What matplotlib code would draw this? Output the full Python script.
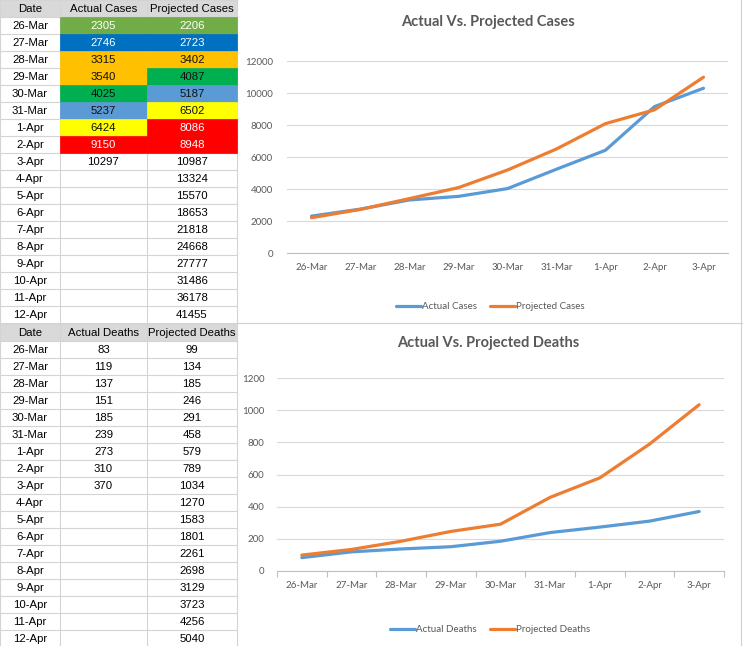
import matplotlib
matplotlib.use("Agg")
import matplotlib.pyplot as plt
from matplotlib.patches import Rectangle

W, H = 743, 646

dates = ["26-Mar", "27-Mar", "28-Mar", "29-Mar", "30-Mar", "31-Mar",
         "1-Apr", "2-Apr", "3-Apr", "4-Apr", "5-Apr", "6-Apr", "7-Apr",
         "8-Apr", "9-Apr", "10-Apr", "11-Apr", "12-Apr"]
actual_cases = [2305, 2746, 3315, 3540, 4025, 5237, 6424, 9150, 10297]
projected_cases = [2206, 2723, 3402, 4087, 5187, 6502, 8086, 8948, 10987,
                   13324, 15570, 18653, 21818, 24668, 27777, 31486, 36178, 41455]
actual_deaths = [83, 119, 137, 151, 185, 239, 273, 310, 370]
projected_deaths = [99, 134, 185, 246, 291, 458, 579, 789, 1034,
                    1270, 1583, 1801, 2261, 2698, 3129, 3723, 4256, 5040]

# cell fills of the cases table (actual, projected) per row
case_fills = [("#70AD47", "#70AD47"), ("#0070C0", "#0070C0"),
              ("#FFC000", "#FFC000"), ("#FFC000", "#00B050"),
              ("#00B050", "#5B9BD5"), ("#5B9BD5", "#FFFF00"),
              ("#FFFF00", "#FF0000"), ("#FF0000", "#FF0000")]
WHITE_TEXT = {"#70AD47", "#0070C0", "#FF0000"}

BLUE, ORANGE = "#5B9BD5", "#ED7D31"
GRID = "#d4d4d4"
CHART_FONT = "Lato"
TABLE_FONT = "Liberation Sans"

fig = plt.figure(figsize=(W / 100, H / 100), dpi=100)
bg = fig.add_axes([0, 0, 1, 1])
bg.set_xlim(0, W)
bg.set_ylim(H, 0)
bg.axis("off")

COLS = [0, 60, 147, 237]
RH = 17.0


def draw_table(y0, headers, actual, projected, fills):
    nrows = len(dates) + 1
    bg.add_patch(Rectangle((0, y0), COLS[-1], RH, fc="#d9d9d9", ec="none", zorder=1))
    for i in range(nrows + 1):
        bg.plot([0, COLS[-1]], [y0 + i * RH] * 2, c=GRID, lw=0.8, zorder=2)
    for x in COLS:
        bg.plot([x, x], [y0, y0 + nrows * RH], c=GRID, lw=0.8, zorder=2)
    for j, h in enumerate(headers):
        bg.text((COLS[j] + COLS[j + 1]) / 2, y0 + RH / 2 + 0.5, h, ha="center",
                va="center", fontsize=8.2, family=TABLE_FONT, zorder=4)
    for i, d in enumerate(dates):
        y = y0 + (i + 1) * RH
        vals = [d,
                str(actual[i]) if i < len(actual) else "",
                str(projected[i]) if i < len(projected) else ""]
        for j, v in enumerate(vals):
            tc = "black"
            if j > 0 and fills and i < len(fills):
                fc = fills[i][j - 1]
                bg.add_patch(Rectangle((COLS[j], y), COLS[j + 1] - COLS[j], RH,
                                       fc=fc, ec=fc, lw=0.5, zorder=3))
                tc = "white" if fc in WHITE_TEXT else "#111111"
            bg.text((COLS[j] + COLS[j + 1]) / 2, y + RH / 2 + 0.5, v, ha="center",
                    va="center", fontsize=8.2, family=TABLE_FONT, color=tc, zorder=4)


draw_table(0.3, ["Date", "Actual Cases", "Projected Cases"],
           actual_cases, projected_cases, case_fills)
draw_table(324, ["Date", "Actual Deaths", "Projected Deaths"],
           actual_deaths, projected_deaths, None)

# chart frame lines
bg.plot([238, W], [323, 323], c="#d0d0d0", lw=0.8)
bg.plot([741, 741], [0, H], c="#d0d0d0", lw=0.8)


def draw_chart(px, title, title_y, actual, projected, names, ymax, step, ticks,
               legend_y, label_pad):
    l, t, r, b = px
    ax = fig.add_axes([l / W, 1 - b / H, (r - l) / W, (b - t) / H])
    n = len(actual)
    x = list(range(n))
    la, = ax.plot(x, actual, c=BLUE, lw=2.3, solid_capstyle="round", label=names[0])
    lp, = ax.plot(x, projected[:n], c=ORANGE, lw=2.3, solid_capstyle="round", label=names[1])
    ax.set_xlim(-0.5, n - 0.5)
    ax.set_ylim(0, ymax)
    ax.set_yticks(range(0, ymax + 1, step))
    ax.set_xticks(x)
    ax.set_xticklabels(dates[:n])
    ax.yaxis.grid(True, color="#d9d9d9", lw=0.8)
    ax.set_axisbelow(True)
    for s in ("top", "right", "left"):
        ax.spines[s].set_visible(False)
    ax.spines["bottom"].set_color("#bfbfbf")
    ax.spines["bottom"].set_linewidth(0.8)
    ax.tick_params(axis="y", length=0, pad=label_pad, labelsize=7, labelcolor="#595959")
    ax.tick_params(axis="x", length=0, pad=7, labelsize=7, labelcolor="#595959")
    if ticks:
        ax.set_xticks([i - 0.5 for i in range(n + 1)], minor=True)
        ax.tick_params(axis="x", which="minor", length=4, color="#bfbfbf", width=0.8)
    for lab in ax.get_xticklabels() + ax.get_yticklabels():
        lab.set_family(CHART_FONT)
    fig.text(488 / W, 1 - title_y / H, title, ha="center", va="center",
             fontsize=10.5, weight="bold", color="#595959", family=CHART_FONT)
    fig.legend(handles=[la, lp], loc="center", bbox_to_anchor=(490 / W, 1 - legend_y / H),
               ncol=2, frameon=False, handlelength=2.6, handletextpad=0.1,
               columnspacing=1.3, prop={"family": CHART_FONT, "size": 7},
               labelcolor="#595959")
    return ax


draw_chart((287, 61, 728, 253), "Actual Vs. Projected Cases", 22,
           actual_cases, projected_cases, ["Actual Cases", "Projected Cases"],
           12000, 2000, False, 307, 10)
draw_chart((277, 378, 724, 571), "Actual Vs. Projected Deaths", 343,
           actual_deaths, projected_deaths, ["Actual Deaths", "Projected Deaths"],
           1200, 200, True, 630, 9)

fig.savefig("out.png", dpi=100)
